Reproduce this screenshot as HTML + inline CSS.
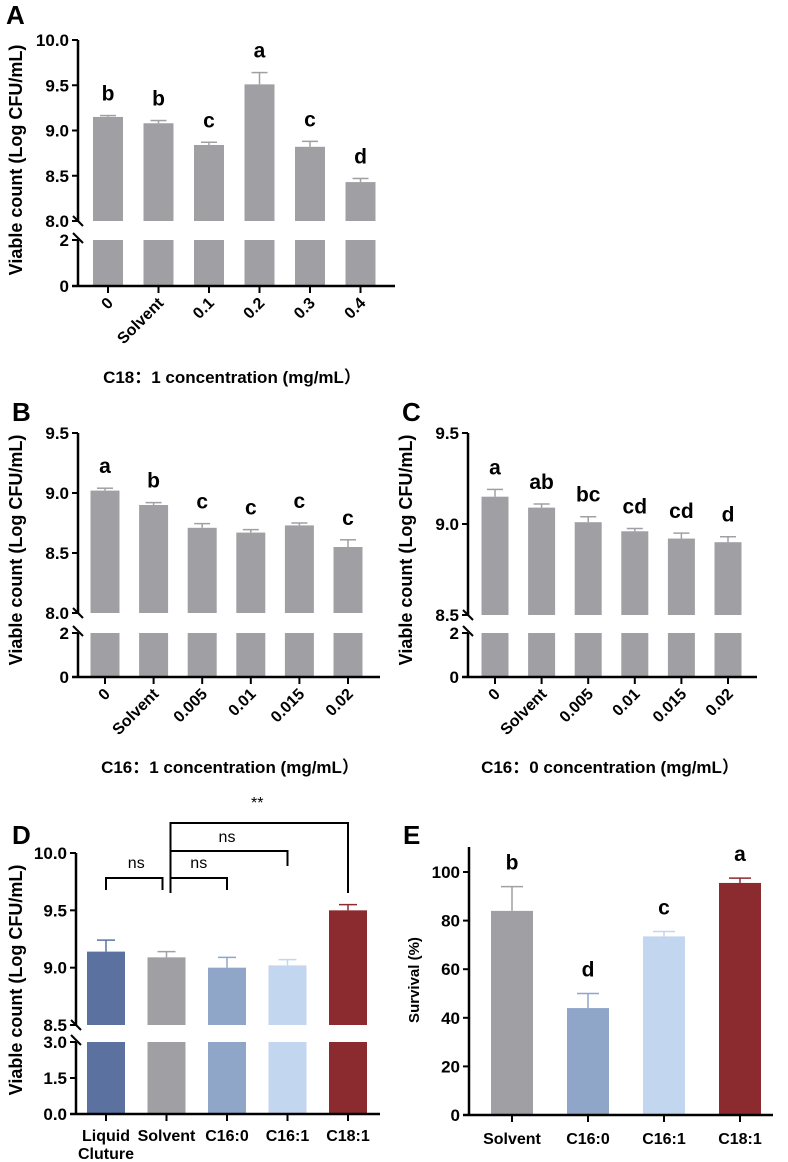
<!DOCTYPE html>
<html><head><meta charset="utf-8"><style>
html,body{margin:0;padding:0;background:#fff}
svg{display:block;font-family:"Liberation Sans","Noto Sans CJK SC",sans-serif}
</style></head><body>
<svg id="fig" width="788" height="1162" viewBox="0 0 788 1162" xmlns="http://www.w3.org/2000/svg"></svg>
<script>
// Panel A data
const aCats = ["0","Solvent","0.1","0.2","0.3","0.4"];
const aVals = [9.15,9.08,8.84,9.51,8.82,8.43];
const aErrs = [0.015,0.03,0.03,0.13,0.06,0.04];
const aLetters = ["b","b","c","a","c","d"];
const aTicks = ["8.0","8.5","9.0","9.5","10.0"];
// Panel B data
const bCats = ["0","Solvent","0.005","0.01","0.015","0.02"];
const bVals = [9.02,8.90,8.71,8.67,8.73,8.55];
const bErrs = [0.02,0.02,0.035,0.025,0.02,0.06];
const bLetters = ["a","b","c","c","c","c"];
const bTicks = ["8.0","8.5","9.0","9.5"];
// Panel C data
const cCats = ["0","Solvent","0.005","0.01","0.015","0.02"];
const cVals = [9.15,9.09,9.01,8.96,8.92,8.90];
const cErrs = [0.04,0.02,0.03,0.015,0.03,0.03];
const cLetters = ["a","ab","bc","cd","cd","d"];
const cTicks = ["8.5","9.0","9.5"];
// Panel D data
const dCats = ["Liquid|Cluture","Solvent","C16:0","C16:1","C18:1"];
const dVals = [9.14,9.09,9.00,9.02,9.50];
const dErrs = [0.10,0.05,0.09,0.05,0.05];
const dTicks = ["8.5","9.0","9.5","10.0"];
// Panel E data
const eCats = ["Solvent","C16:0","C16:1","C18:1"];
const eVals = [84,44,73.5,95.5];
const eErrs = [10,6,2,2];
const eLetters = ["b","d","c","a"];
const eTicks = ["0","20","40","60","80","100"];

const NS="http://www.w3.org/2000/svg";
const svg=document.getElementById('fig');
function mk(tag,attrs,parent,text){const e=document.createElementNS(NS,tag);for(const k in attrs)e.setAttribute(k,attrs[k]);if(text!==undefined)e.textContent=text;(parent||svg).appendChild(e);return e;}
const dColors=["#5b72a0","#a0a0a4","#8fa6c9","#c3d6ef","#8b2b30"];
const eColors=["#a0a0a4","#8fa6c9","#c3d6ef","#8b2b30"];

function brokenPanel(p){
  const g=mk('g',{});
  
  
  const yU=v=>p.yBreak-(v-p.uMin)/(p.uMax-p.uMin)*(p.yBreak-p.yTop);
  const yL=v=>p.y0-(v-0)/(p.lMax)*(p.y0-p.yLTop);
  const xC=i=>p.x1+i*p.step;
  p.vals.forEach((v,i)=>{
    const col=p.colors?p.colors[i]:"#a0a0a4";
    const bx=xC(i)-p.bw/2;
    const r1=mk('rect',{x:bx,y:yU(v),width:p.bw,height:p.yBreak-yU(v),fill:col},g);
    
    
    const r2=mk('rect',{x:bx,y:p.yLTop,width:p.bw,height:p.y0-p.yLTop,fill:col},g);
    
    
    const ey=yU(v+p.errs[i]);
    mk('line',{x1:xC(i),x2:xC(i),y1:yU(v),y2:ey,stroke:col,'stroke-width':1.5},g);
    mk('line',{x1:xC(i)-p.cap,x2:xC(i)+p.cap,y1:ey,y2:ey,stroke:col,'stroke-width':1.5},g);
    if(p.letters){
      const t=mk('text',{x:xC(i),y:ey-p.lgap,'text-anchor':'middle','font-size':21,'font-weight':'bold'},g,p.letters[i]);
      
      
    }
  });
  mk('line',{x1:p.ax,x2:p.ax,y1:p.yTop,y2:p.yBreak,stroke:'#000','stroke-width':2.5},g);
  mk('line',{x1:p.ax,x2:p.ax,y1:p.yLTop,y2:p.y0+1,stroke:'#000','stroke-width':2.5},g);
  mk('line',{x1:p.ax-5,x2:p.ax+5,y1:p.yBreak-5,y2:p.yBreak+5,stroke:'#000','stroke-width':2},g);
  mk('line',{x1:p.ax-5,x2:p.ax+5,y1:p.yLTop-7,y2:p.yLTop+3,stroke:'#000','stroke-width':2},g);
  mk('line',{x1:p.ax-6,x2:p.xEnd,y1:p.y0,y2:p.y0,stroke:'#000','stroke-width':2.5},g);
  const tf=p.tickFont||17;
  p.ticks.forEach(t=>{
    const y=yU(parseFloat(t));
    mk('line',{x1:p.ax-6,x2:p.ax,y1:y,y2:y,stroke:'#000','stroke-width':2},g);
    const tl=mk('text',{x:p.ax-9,y:y+6,'text-anchor':'end','font-size':tf,'font-weight':'bold'},g,t);
    
    
  });
  p.lTicks.forEach(t=>{
    const y=yL(parseFloat(t));
    mk('line',{x1:p.ax-6,x2:p.ax,y1:y,y2:y,stroke:'#000','stroke-width':2},g);
    const tl=mk('text',{x:p.ax-9,y:y+6,'text-anchor':'end','font-size':tf,'font-weight':'bold'},g,t);
    
    
  });
  p.cats.forEach((c,i)=>{
    mk('line',{x1:xC(i),x2:xC(i),y1:p.y0,y2:p.y0+7,stroke:'#000','stroke-width':2},g);
    if(p.rot){
      const t=mk('text',{x:xC(i)+6,y:p.y0+18,'text-anchor':'end','font-size':16,'font-weight':'bold',transform:`rotate(-45 ${xC(i)+6} ${p.y0+18})`},g,c);
      
      
    } else {
      const parts=c.split('|');
      parts.forEach((s,k)=>{
        const t=mk('text',{x:xC(i),y:p.y0+27+k*18,'text-anchor':'middle','font-size':16,'font-weight':'bold'},g,s);
        
        
      });
    }
  });
  const yt=mk('text',{x:p.ytx,y:p.yty,'text-anchor':'middle','font-size':18,'font-weight':'bold',transform:`rotate(-90 ${p.ytx} ${p.yty})`},g,'Viable count (Log CFU/mL)');
  
  
  if(p.xtitle){
    const xt=mk('text',{x:p.xtx,y:p.xty,'text-anchor':'middle','font-size':17,'font-weight':'bold'},g,p.xtitle);
    
    
  }
  const pl=mk('text',{x:p.plx,y:p.ply,'font-size':26,'font-weight':'bold'},g,p.label);
  
  
  return {xC,yU};
}

brokenPanel({name:'panel-a',vals:aVals,errs:aErrs,letters:aLetters,cats:aCats,ticks:aTicks,lTicks:["0","2"],
  uMin:8,uMax:10,yTop:40,yBreak:221,yLTop:240,y0:286,lMax:2,ax:78,x1:108,step:50.5,bw:30,cap:8,xEnd:395,lgap:15,rot:true,
  ytx:22,yty:160,xtitle:'C18：1 concentration (mg/mL）',xtx:232,xty:383,label:'A',plx:6,ply:24});
brokenPanel({name:'panel-b',vals:bVals,errs:bErrs,letters:bLetters,cats:bCats,ticks:bTicks,lTicks:["0","2"],
  uMin:8,uMax:9.5,yTop:433,yBreak:613,yLTop:633,y0:677,lMax:2,ax:78,x1:105,step:48.6,bw:29,cap:8,xEnd:380,lgap:15,rot:true,
  ytx:22,yty:550,xtitle:'C16：1 concentration (mg/mL）',xtx:230,xty:773,label:'B',plx:12,ply:421});
brokenPanel({name:'panel-c',vals:cVals,errs:cErrs,letters:cLetters,cats:cCats,ticks:cTicks,lTicks:["0","2"],
  uMin:8.5,uMax:9.5,yTop:433,yBreak:615,yLTop:633,y0:677,lMax:2,ax:468,x1:495,step:46.6,bw:27,cap:8,xEnd:757,lgap:15,rot:true,
  ytx:412,yty:550,xtitle:'C16：0 concentration (mg/mL）',xtx:610,xty:773,label:'C',plx:402,ply:421});
const D=brokenPanel({name:'panel-d',vals:dVals,errs:dErrs,colors:dColors,cats:dCats,ticks:dTicks,lTicks:["0.0","1.5","3.0"],
  uMin:8.5,uMax:10,yTop:853,yBreak:1025,yLTop:1042,y0:1114,lMax:3,ax:76,x1:106,step:60.5,bw:38,cap:9,xEnd:380,lgap:15,rot:false,
  ytx:22,yty:980,label:'D',plx:12,ply:844});

const bg=mk('g',{fill:'none',stroke:'#000','stroke-width':2});


const xs=D.xC;
mk('polyline',{points:`${xs(0)},890 ${xs(0)},878 ${xs(1)-4},878 ${xs(1)-4},890`},bg);
mk('polyline',{points:`${xs(1)+4},878 ${xs(2)},878 ${xs(2)},890`},bg);
mk('polyline',{points:`${xs(1)+4},851 ${xs(3)},851 ${xs(3)},866`},bg);
mk('polyline',{points:`${xs(1)+4},893 ${xs(1)+4},823 ${xs(4)},823 ${xs(4)},893`},bg);
[[ (xs(0)+xs(1))/2, 868,'ns'],[(xs(1)+xs(2))/2+2,868,'ns'],[(xs(1)+xs(3))/2,842,'ns'],[(xs(1)+xs(4))/2,808,'**']].forEach(a=>{
  const t=mk('text',{x:a[0],y:a[1],'text-anchor':'middle','font-size':16},svg,a[2]);
  
  
});

(function(){
  const g=mk('g',{});
  
  
  const ax=469,y0=1115,y100=872,xEnd=773;
  const y=v=>y0-v/100*(y0-y100);
  const xC=i=>512+i*76;
  eVals.forEach((v,i)=>{
    const r=mk('rect',{x:xC(i)-21,y:y(v),width:42,height:y0-y(v),fill:eColors[i]},g);
    
    
    const ey=y(v+eErrs[i]);
    mk('line',{x1:xC(i),x2:xC(i),y1:y(v),y2:ey,stroke:eColors[i],'stroke-width':1.5},g);
    mk('line',{x1:xC(i)-11,x2:xC(i)+11,y1:ey,y2:ey,stroke:eColors[i],'stroke-width':1.5},g);
    const t=mk('text',{x:xC(i),y:ey-17,'text-anchor':'middle','font-size':21,'font-weight':'bold'},g,eLetters[i]);
    
    
    mk('line',{x1:xC(i),x2:xC(i),y1:y0,y2:y0+7,stroke:'#000','stroke-width':2},g);
    const tl=mk('text',{x:xC(i),y:y0+29,'text-anchor':'middle','font-size':16,'font-weight':'bold'},g,eCats[i]);
    
    
  });
  mk('line',{x1:ax,x2:ax,y1:847,y2:y0+1,stroke:'#000','stroke-width':2.5},g);
  mk('line',{x1:ax-6,x2:xEnd,y1:y0,y2:y0,stroke:'#000','stroke-width':2.5},g);
  eTicks.forEach(t=>{
    const yy=y(parseFloat(t));
    mk('line',{x1:ax-6,x2:ax,y1:yy,y2:yy,stroke:'#000','stroke-width':2},g);
    const tl=mk('text',{x:ax-9,y:yy+6,'text-anchor':'end','font-size':17,'font-weight':'bold'},g,t);
    
    
  });
  const yt=mk('text',{x:419,y:980,'text-anchor':'middle','font-size':15,'font-weight':'bold',transform:'rotate(-90 419 980)'},g,'Survival (%)');
  
  
  const pl=mk('text',{x:403,y:844,'font-size':26,'font-weight':'bold'},g,'E');
  
  
})();
</script>
</body></html>
